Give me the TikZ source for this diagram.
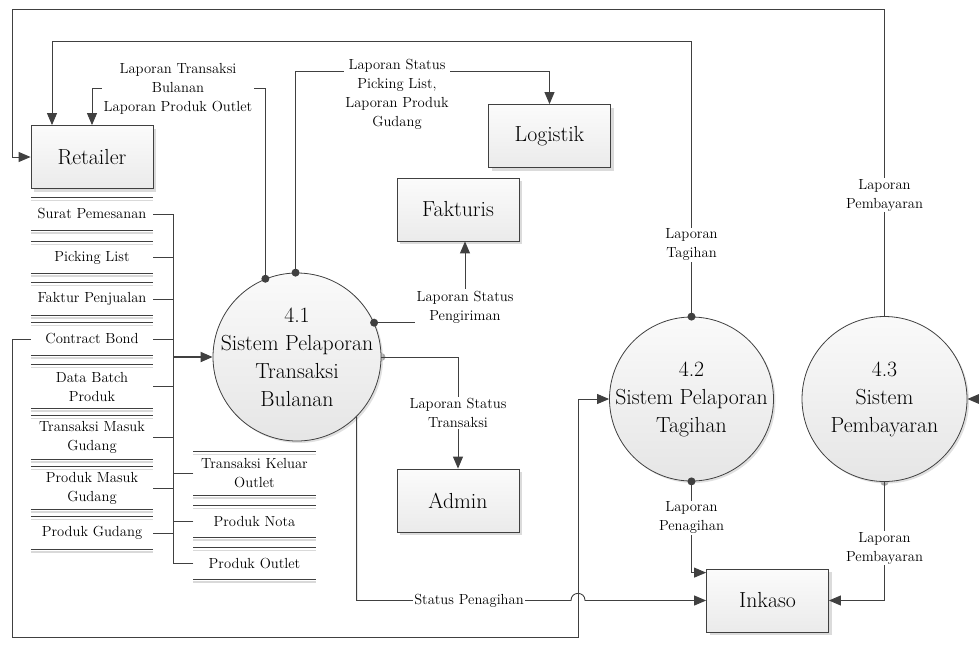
\documentclass[tikz,border=0pt]{standalone}
\usetikzlibrary{arrows.meta,shadows,calc}
\pgfdeclarelayer{bg}
\pgfsetlayers{bg,main}
\newcommand\lblfont{\fontsize{14.6}{19}\selectfont}
\newcommand\titlefont{\fontsize{21.8}{28}\selectfont}
\definecolor{ink}{HTML}{404040}
\tikzset{
  line/.style={draw=ink, line width=0.9pt},
  flow/.style={line, -{Triangle[length=12pt,width=10pt]}},
  entity/.style={draw=ink, line width=0.8pt, top color=gray!3, bottom color=gray!16,
    minimum width=122pt, minimum height=63pt, font=\titlefont,
    drop shadow={shadow xshift=3pt, shadow yshift=-3pt, fill=gray!40, opacity=0.7}},
  process/.style={circle, draw=ink, line width=0.8pt, top color=gray!4, bottom color=gray!20,
    inner sep=0pt,
    drop shadow={shadow xshift=2pt, shadow yshift=-2pt, fill=gray!40, opacity=0.6}},
  ptext/.style={align=center, font=\titlefont, inner sep=0pt},
  store/.style={minimum width=122pt, inner sep=0pt, align=center, font=\lblfont},
  lbl/.style={fill=white, inner sep=1.5pt, align=center, font=\lblfont},
  dot/.style={fill=ink},
  semidot/.style={fill=gray!70},
}
\begin{document}
\begin{tikzpicture}[x=1pt,y=-1pt]
\useasboundingbox (0,0) rectangle (979,651);

% external entities
\node[entity] (retailer) at (92,157) {Retailer};
\node[entity] (logistik) at (549.5,136) {Logistik};
\node[entity] (fakturis) at (458,209.5) {Fakturis};
\node[entity] (admin) at (458,500.5) {Admin};
\node[entity] (inkaso) at (767.5,600.5) {Inkaso};

% processes
\node[process, minimum size=168pt] (p41) at (297,357) {};
\node[process, minimum size=164pt] (p42) at (691.5,399) {};
\node[process, minimum size=165pt] (p43) at (884.5,399) {};
\node[ptext] (p41t) at (p41.center) {4.1\\Sistem Pelaporan\\Transaksi\\Bulanan};
\node[ptext] (p42t) at (p42.center) {4.2\\Sistem Pelaporan\\Tagihan};
\node[ptext] (p43t) at (p43.center) {4.3\\Sistem\\Pembayaran};

% data stores
\node[store, minimum height=32pt] (s1) at (92,214) {Surat Pemesanan};
\node[store, minimum height=31pt] (s2) at (92,257.5) {Picking List};
\node[store, minimum height=32pt] (s3) at (92,299) {Faktur Penjualan};
\node[store, minimum height=32pt] (s4) at (92,339) {Contract Bond};
\node[store, minimum height=43pt] (s5) at (92,386.5) {Data Batch\\Produk};
\node[store, minimum height=43pt] (s6) at (92,437.5) {Transaksi Masuk\\Gudang};
\node[store, minimum height=42pt] (s7) at (92,488) {Produk Masuk\\Gudang};
\node[store, minimum height=32pt] (s8) at (92,533) {Produk Gudang};
\node[store, minimum height=43pt] (s9) at (254.5,473.5) {Transaksi Keluar\\Outlet};
\node[store, minimum height=31pt] (s10) at (254.5,521.5) {Produk Nota};
\node[store, minimum height=31pt] (s11) at (254.5,563.5) {Produk Outlet};

\foreach \s in {s1,s2,s3,s4,s5,s6,s7,s8,s9,s10,s11} {
  \draw[gray!30, line width=1.6pt] ([yshift=-2.5pt]\s.north west) -- ([yshift=-2.5pt]\s.north east);
  \draw[gray!30, line width=1.6pt] ([yshift=-2.5pt]\s.south west) -- ([yshift=-2.5pt]\s.south east);
  \draw[line] (\s.north west) -- (\s.north east);
  \draw[line] (\s.south west) -- (\s.south east);
}

% collecting bus into 4.1
\coordinate (bus) at (173,0);
\foreach \s in {s1,s2,s3,s4,s5,s6,s7,s8} \draw[line] (\s.east) -- (\s.east -| bus);
\foreach \s in {s9,s10,s11} \draw[line] (\s.west) -- (\s.west -| bus);
\draw[line] (s1.east -| bus) -- (s11.west -| bus);
\draw[line, line width=1.8pt, -{Triangle[length=12pt,width=10pt]}] (bus |- p41.west) -- (p41.west);

% Contract Bond to 4.2
\draw[flow] (s4.west) -| (12,637) -| (578,399) -- (p42.west);

% 4.3 to Retailer
\draw[flow] (p43.north) |- (12,9) |- (retailer.west);
\node[lbl] at (884.5,195) {Laporan\\Pembayaran};

% 4.2 to Retailer
\coordinate (c2) at (52,41);
\draw[flow] (p42.north) |- (c2) -- (c2 |- retailer.north);
\fill[dot] (p42.north) circle (4pt);
\node[lbl] at (691.5,245) {Laporan\\Tagihan};

% 4.1 to Retailer
\coordinate (c1) at (92,88);
\draw[flow] (p41.112) |- (c1) -- (c1 |- retailer.north);
\fill[dot] (p41.112) circle (4pt);
\node[lbl] at (178,89) {Laporan Transaksi\\Bulanan\\Laporan Produk Outlet};

% 4.1 to Logistik
\draw[flow] (p41.91) |- ($(logistik.north)+(0,-33)$) -- (logistik.north);
\fill[dot] (p41.91) circle (4pt);
\node[lbl] at (397,94) {Laporan Status\\Picking List,\\Laporan Produk\\Gudang};

% 4.1 to Fakturis
\draw[flow] (p41.24) -| ([xshift=7pt]fakturis.south);
\fill[dot] (p41.24) circle (4pt);
\node[lbl] at (465,307) {Laporan Status\\Pengiriman};

% 4.1 to Admin
\draw[flow] (p41.east) -| (admin.north);
\begin{pgfonlayer}{bg}
  \fill[semidot] (p41.east) circle (4pt);
  \fill[semidot] (p43.south) circle (4pt);
\end{pgfonlayer}
\node[lbl] at (458,413) {Laporan Status\\Transaksi};

% 4.1 to Inkaso, hopping over the Contract Bond line
\draw[flow] (p41.-45) |- (571,600.5) .. controls (571,591) and (585,591) .. (585,600.5) -- (inkaso.west);
\node[lbl] at (469,600.5) {Status Penagihan};

% 4.2 to Inkaso
\draw[flow] (p42.south) |- ([yshift=-4pt]inkaso.north west);
\fill[dot] (p42.south) circle (4pt);
\node[lbl] at (691.5,518) {Laporan\\Penagihan};

% 4.3 to Inkaso
\draw[flow] (p43.south) |- (inkaso.east);
\node[lbl] at (884.5,548) {Laporan\\Pembayaran};

% incoming flow to 4.3
\coordinate (ext) at (979,399);
\draw[flow] (ext) -- (p43.east);
\end{tikzpicture}
\end{document}
